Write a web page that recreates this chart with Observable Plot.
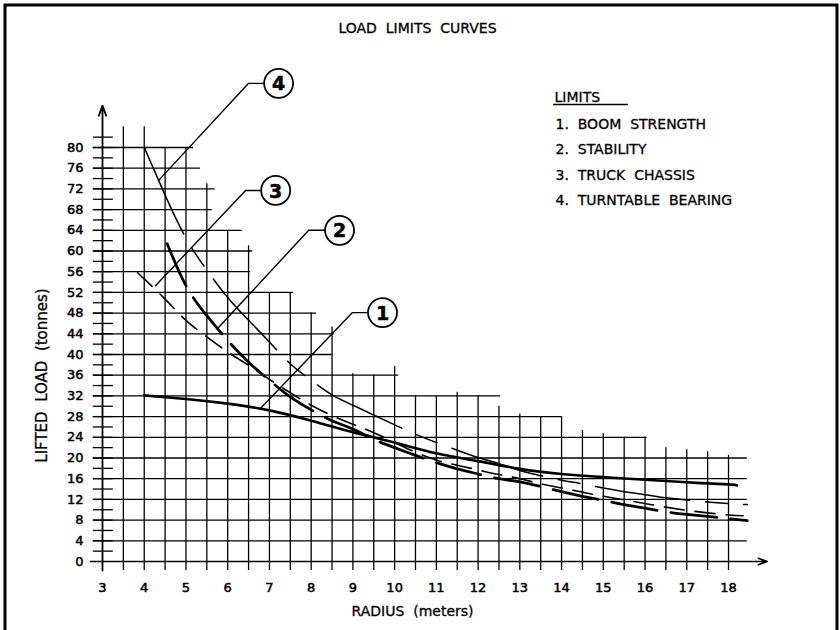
<!DOCTYPE html>
<html><head><meta charset="utf-8">
<script src="https://cdn.jsdelivr.net/npm/d3@7"></script>
<script src="https://cdn.jsdelivr.net/npm/@observablehq/plot@0.6"></script>
<style>
html,body{margin:0;padding:0;background:#fff;}
#chart svg{display:block;}
</style>
</head><body><div id="chart"></div>
<script>
// ---------------- data ----------------
const xTicks = [3,4,5,6,7,8,9,10,11,12,13,14,15,16,17,18];
const yTicks = [0,4,8,12,16,20,24,28,32,36,40,44,48,52,56,60,64,68,72,76,80];
const yMinorTicks = [2,4,6,8,10,12,14,16,18,20,22,24,26,28,30,32,34,36,38,40,42,44,46,48,50,52,54,56,58,60,62,64,66,68,70,72,74,76,78,80,82];

// stepped grid (drafted envelope)
const gridX    = [3.5,4,4.5,5,5.5,6,6.5,7,7.5,8,8.5,9,9.5,10,10.5,11,11.5,12,12.5,13,13.5,14,14.5,15,15.5,16,16.5,17,17.5,18];
const gridXTop = [84,84,80,80,73,64,61,52,52,48,45.3,36.3,36,37.7,32,32,32.7,32,30,28.5,28,28,25.3,24.7,24,24,22,21.6,21.2,20.5];
const gridY    = [4,8,12,16,20,24,28,32,36,40,44,48,52,56,60,64,68,72,76,80];
const gridYEnd = [18.45,18.45,18.45,18.45,18.45,16.05,14.0,12.54,10.1,8.5,8.55,8.13,7.58,6.55,6.6,6.35,5.63,5.7,5.35,5.18];

// 1. boom strength
const boomX = [4,5,6,7,8,9,10,11,12,13,14,15,16,17,18,18.2];
const boomY = [32.1,31.4,30.5,29.2,27.2,25.0,23.0,20.9,19.4,17.9,16.9,16.3,15.8,15.3,14.9,14.7];
// 2. stability
const stabX = [4.55,5,5.5,6,6.5,7,7.5,8,8.5,9,9.5,10,10.5,11,11.5,12,12.5,13,13.5,14,14.5,15,15.5,16,16.5,17,17.5,18,18.45];
const stabY = [61.4,53.3,47.5,42.7,38.5,35.0,31.8,29.3,27.2,25.6,23.6,22.0,20.5,19.1,17.9,16.9,16.0,15.4,14.5,13.5,12.6,11.8,11.0,10.3,9.6,9.1,8.7,8.3,7.9];
// 3. truck chassis
const truckX = [3.84,4,4.5,5,5.5,6,6.5,7,7.5,8,8.5,9,9.5,10,10.5,11,11.5,12,12.5,13,13.5,14,14.5,15,15.5,16,16.5,17,17.5,18,18.35];
const truckY = [55.8,54.6,50.7,46.6,43.4,40.5,37.9,35.2,32.6,30.2,28.2,26.5,24.9,23.0,21.1,19.6,18.6,17.7,16.8,16.0,15.0,14.2,13.4,12.6,11.9,11.2,10.5,9.9,9.4,9.0,8.85];
// 4. turntable bearing
const bearX = [4,4.5,5,5.5,6,6.5,7,7.5,8,8.5,9,9.5,10,10.5,11,11.5,12,12.5,13,13.5,14,14.5,15,15.5,16,16.5,17,17.5,18,18.45];
const bearY = [80,70.8,62.5,56.3,51.0,46.6,42.4,38.2,35.0,32.2,30.2,28.3,26.4,24.6,23.0,21.5,20.1,18.9,17.6,16.6,15.7,15.0,14.2,13.5,12.9,12.3,11.9,11.5,11.2,11.0];

const legendTitle = "LIMITS";
const legendLabels = ["1.  BOOM  STRENGTH","2.  STABILITY","3.  TRUCK  CHASSIS","4.  TURNTABLE  BEARING"];
const title = "LOAD  LIMITS  CURVES";
const xLabel = "RADIUS  (meters)";
const yLabel = "LIFTED  LOAD  (tonnes)";

// callouts (balloon centre, elbow x, leader tip on curve) in data units
const calloutLabels = ["1","2","3","4"];
const calloutX = [9.71,8.68,7.15,7.22];
const calloutY = [48.1,64.0,71.7,92.4];
const elbowX   = [8.99,7.94,6.43,6.50];
const tipX     = [6.79,5.78,4.27,4.34];
const tipY     = [29.6,45.2,53.3,73.6];

// ---------------- build ----------------
const pts = (xs, ys) => xs.map((x, i) => ({x, y: ys[i]}));
const boom = pts(boomX, boomY), stab = pts(stabX, stabY), truck = pts(truckX, truckY), bear = pts(bearX, bearY);
const vgrid = gridX.map((x, i) => ({x, top: gridXTop[i]}));
const hgrid = gridY.map((y, i) => ({y, end: gridYEnd[i]}));
const callouts = calloutLabels.map((t, i) => ({t, x: calloutX[i], y: calloutY[i]}));
const leaders = calloutLabels.flatMap((t, i) => [
  {id: t, x: tipX[i], y: tipY[i]},
  {id: t, x: elbowX[i], y: calloutY[i]},
  {id: t, x: calloutX[i], y: calloutY[i]}
]);

const G = 1.3;
const ink = {fill: "#000", stroke: "#000", strokeWidth: 0.5};
const chart = Plot.plot({
  width: 840, height: 630,
  marginLeft: 102, marginRight: 112, marginTop: 147, marginBottom: 69,
  x: {domain: [3, 18], axis: null},
  y: {domain: [0, 80], axis: null},
  style: {fontFamily: "'DejaVu Sans', sans-serif", fontSize: "14px", background: "#fff", color: "#000", whiteSpace: "pre", overflow: "visible"},
  marks: [
    // grid
    Plot.ruleX(vgrid, {x: "x", y1: -1.74, y2: "top", stroke: "#000", strokeWidth: G}),
    Plot.ruleY(hgrid, {y: "y", x1: 2.78, x2: "end", stroke: "#000", strokeWidth: G}),
    Plot.ruleY(yMinorTicks, {y: d => d, x1: 2.78, x2: 3.26, stroke: "#000", strokeWidth: G}),
    // axes with arrows
    Plot.arrow([{x1: 2.71, y1: 0, x2: 18.93, y2: 0}], {x1: "x1", y1: "y1", x2: "x2", y2: "y2", headLength: 9, headAngle: 40, strokeWidth: 1.6, stroke: "#000"}),
    Plot.arrow([{x1: 3, y1: -1.74, x2: 3, y2: 88.1}], {x1: "x1", y1: "y1", x2: "x2", y2: "y2", headLength: 9, headAngle: 40, strokeWidth: 1.8, stroke: "#000"}),
    // tick labels
    Plot.text(xTicks, {x: d => d, y: 0, dy: 26, text: d => String(d), fontSize: 13, lineAnchor: "middle", ...ink}),
    Plot.text(yTicks, {x: 3, y: d => d, dx: -19, text: d => String(d), fontSize: 13, textAnchor: "end", lineAnchor: "middle", ...ink}),
    // curves
    Plot.line(truck, {x: "x", y: "y", curve: "natural", stroke: "#000", strokeWidth: 1.6, strokeDasharray: "20,11"}),
    Plot.line(bear, {x: "x", y: "y", curve: "natural", stroke: "#000", strokeWidth: 1.5, strokeDasharray: "95,16,22,16"}),
    Plot.line(stab, {x: "x", y: "y", curve: "natural", stroke: "#000", strokeWidth: 2.8, strokeDasharray: "46,14"}),
    Plot.line(boom, {x: "x", y: "y", curve: "natural", stroke: "#000", strokeWidth: 2.6}),
    // callouts
    Plot.line(leaders, {x: "x", y: "y", z: "id", stroke: "#000", strokeWidth: 1.4}),
    Plot.dot(callouts, {x: "x", y: "y", r: 14.5, fill: "#fff", stroke: "#000", strokeWidth: 1.8}),
    Plot.text(callouts, {x: "x", y: "y", text: "t", fontSize: 19, fontWeight: "bold", lineAnchor: "middle", dy: 1, ...ink}),
    // titles
    Plot.text([title], {frameAnchor: "top", dx: 2, dy: -119, textAnchor: "middle", lineAnchor: "middle", ...ink, strokeWidth: 0.3}),
    Plot.text([xLabel], {frameAnchor: "bottom", dx: -3, dy: 50, textAnchor: "middle", lineAnchor: "middle", ...ink, strokeWidth: 0.3}),
    Plot.text([yLabel], {frameAnchor: "left", dx: -60, dy: 21, rotate: -90, fontSize: 15, textAnchor: "middle", lineAnchor: "middle", ...ink, strokeWidth: 0.3}),
    // legend
    Plot.text([legendTitle], {frameAnchor: "top-left", dx: 452, dy: -50, textAnchor: "start", lineAnchor: "middle", ...ink, strokeWidth: 0.3}),
    Plot.ruleY([88.3], {x1: 13.81, x2: 15.6, stroke: "#000", strokeWidth: 1.4}),
    ...legendLabels.map((t, i) => Plot.text([t], {frameAnchor: "top-left", dx: 453, dy: -23 + i * 25.4, textAnchor: "start", lineAnchor: "middle", ...ink, strokeWidth: 0.3}))
  ]
});

// drawing-sheet border
d3.select(chart).append("path")
  .attr("d", "M5,630V5H837V630")
  .attr("fill", "none").attr("stroke", "#000").attr("stroke-width", 3);

document.getElementById("chart").appendChild(chart);
</script>
</body></html>
